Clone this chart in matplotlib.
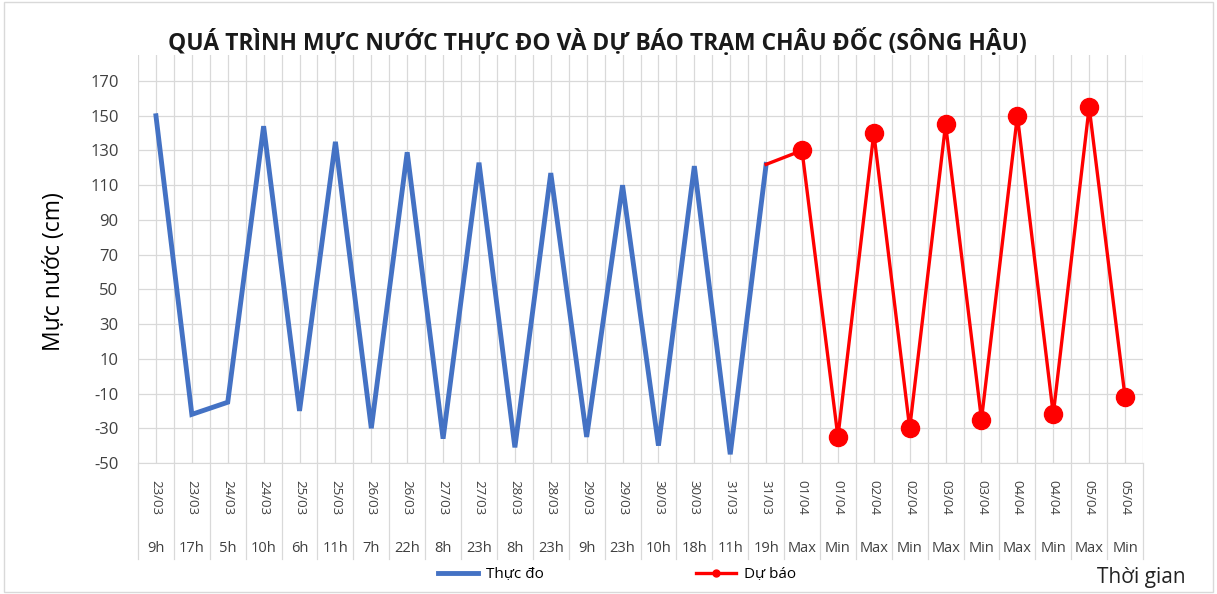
import numpy as np
import matplotlib
matplotlib.use("Agg")
import matplotlib.pyplot as plt
from matplotlib.lines import Line2D
import matplotlib.transforms as mtransforms

plt.rcParams['font.family'] = ['Open Sans', 'DejaVu Sans']
plt.rcParams['axes.unicode_minus'] = False

# category labels (two rows on the x axis)
dates = ["23/03", "23/03", "24/03", "24/03", "25/03", "25/03", "26/03", "26/03",
         "27/03", "27/03", "28/03", "28/03", "29/03", "29/03", "30/03", "30/03",
         "31/03", "31/03", "01/04", "01/04", "02/04", "02/04", "03/04", "03/04",
         "04/04", "04/04", "05/04", "05/04"]
hours = ["9h", "17h", "5h", "10h", "6h", "11h", "7h", "22h", "8h", "23h", "8h", "23h",
         "9h", "23h", "10h", "18h", "11h", "19h", "Max", "Min", "Max", "Min", "Max", "Min",
         "Max", "Min", "Max", "Min"]

# measured water level (cm)
thuc_do = [150, -22, -15, 144, -20, 135, -30, 129, -36, 123, -41, 117, -35, 110, -40, 121, -45, 122]
# forecast, starting from last measured point
du_bao = [122, 130, -35, 140, -30, 145, -25, 150, -22, 155, -12]

n = len(dates)
x_obs = np.arange(len(thuc_do))
x_fc = np.arange(len(thuc_do) - 1, n)

fig = plt.figure(figsize=(12.17, 5.94), dpi=100)
ax = fig.add_axes([138/1217, 1 - 463/594, (1143 - 138)/1217, (463 - 55)/594])

grid_c = "#d9d9d9"
ax.set_xlim(-0.5, n - 0.5)
ax.set_ylim(-50, 185)
ax.set_yticks(np.arange(-50, 171, 20))
ax.set_xticks(np.arange(n))
ax.set_xticks(np.arange(n + 1) - 0.5, minor=True)
ax.set_xticklabels([])
ax.tick_params(axis='x', which='both', length=0)
ax.tick_params(axis='y', length=0, labelsize=12, colors="#404040", pad=14)
ax.grid(True, which='major', axis='both', color=grid_c, lw=0.9)
ax.grid(True, which='minor', axis='x', color=grid_c, lw=0.9)
for s in ['top', 'right', 'left']:
    ax.spines[s].set_visible(False)
ax.spines['bottom'].set_color(grid_c)
ax.set_axisbelow(True)

ax.plot(x_obs, thuc_do, color="#4472C4", lw=3.5, solid_joinstyle='miter', zorder=3)
ax.plot(x_fc, du_bao, color="#FF0000", lw=2.4, zorder=4)
ax.plot(x_fc[1:], du_bao[1:], ls='none', marker='o', ms=13, color="#FF0000", zorder=5)

# category labels below the axis
trans = mtransforms.blended_transform_factory(ax.transData, ax.transAxes)
for i in range(n):
    ax.text(i, -0.085, dates[i], transform=trans, rotation=-90, ha='center', va='center',
            fontsize=9.5, color="#404040")
    ax.text(i, -0.21, hours[i], transform=trans, ha='center', va='center',
            fontsize=10.5, color="#404040")
for i in range(n + 1):
    ax.add_line(Line2D([i - 0.5, i - 0.5], [0, -0.235], transform=trans, color=grid_c,
                       lw=0.9, clip_on=False))

ax.set_ylabel("Mực nước (cm)", fontsize=16.5)
ax.yaxis.set_label_coords(-0.072, 0.47)

fig.text(597/1217, 1 - 42/594, "QUÁ TRÌNH MỰC NƯỚC THỰC ĐO VÀ DỰ BÁO TRẠM CHÂU ĐỐC (SÔNG HẬU)",
         ha='center', va='center', fontsize=16.5, fontweight='bold', color="#1a1a1a")
fig.text(1141/1217, 1 - 578/594, "Thời gian", ha='center', va='center', fontsize=15,
         color="#222222")

handles = [Line2D([], [], color="#4472C4", lw=3.5),
           Line2D([], [], color="#FF0000", lw=2.4, marker='o', ms=5)]
fig.legend(handles, ["Thực đo", "Dự báo"], loc='center', bbox_to_anchor=(617/1217, 1 - 575/594),
           ncol=2, frameon=False, fontsize=11, handlelength=2.6, columnspacing=10,
           handletextpad=0.5)

# light chart border like the source
fig.add_artist(plt.Rectangle((0.003, 0.003), 0.994, 0.994, transform=fig.transFigure,
                             fill=False, edgecolor="#d9d9d9", lw=1))

fig.savefig("out.png", dpi=100, facecolor='white')
